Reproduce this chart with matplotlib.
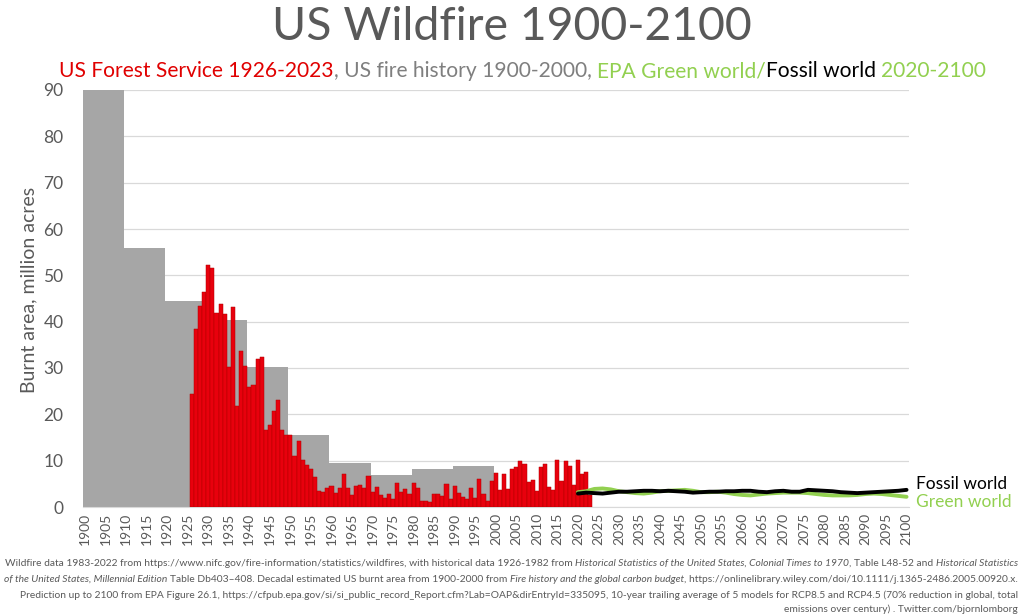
import matplotlib
matplotlib.use('Agg')
import matplotlib.pyplot as plt
from matplotlib import font_manager
import numpy as np

# ---------------- data ----------------
decade_starts = [1900, 1910, 1920, 1930, 1940, 1950, 1960, 1970, 1980, 1990]
decade_vals = [90, 56.0, 44.4, 40.4, 30.3, 15.5, 9.6, 7.0, 8.3, 8.8]

fs_years = list(range(1926, 2024))
fs_vals = [24.3, 38.5, 43.4, 46.3, 52.2, 51.6, 41.9, 43.9, 41.7, 30.3,
           43.2, 21.9, 33.7, 30.4, 25.9, 26.3, 31.9, 32.4, 16.6, 17.6,
           20.7, 23.2, 16.6, 15.5, 15.5, 10.9, 14.2, 10.1, 9.0, 8.1,
           6.5, 3.4, 3.2, 4.2, 4.5, 3.0, 4.0, 7.1, 4.2, 2.6,
           4.6, 4.7, 4.2, 6.7, 3.3, 4.3, 2.6, 1.9, 2.9, 1.8,
           5.1, 3.2, 3.8, 2.9, 5.2, 4.2, 1.4, 1.32, 1.15, 2.90,
           2.72, 2.45, 5.01, 1.83, 4.62, 2.95, 2.07, 1.80, 4.07, 1.84,
           6.07, 2.86, 1.33, 5.63, 7.39, 3.57, 7.18, 3.96, 8.10, 8.69,
           9.87, 9.33, 5.29, 5.92, 3.42, 8.71, 9.33, 4.32, 3.60, 10.13,
           5.51, 10.03, 8.77, 4.66, 10.12, 7.13, 7.58, 2.69]

proj_years = list(range(2020, 2101, 2))
fossil_vals = [2.9, 3.1, 3.0, 2.9, 3.1, 3.3, 3.3, 3.4, 3.5, 3.5,
               3.4, 3.5, 3.4, 3.3, 3.1, 3.2, 3.3, 3.3, 3.4, 3.4,
               3.5, 3.5, 3.3, 3.2, 3.4, 3.5, 3.3, 3.3, 3.7, 3.6,
               3.5, 3.4, 3.2, 3.1, 3.0, 3.1, 3.2, 3.3, 3.4, 3.5, 3.7]
green_vals = [3.2, 3.4, 3.9, 4.0, 3.8, 3.4, 3.2, 3.0, 2.9, 3.1,
              3.4, 3.5, 3.6, 3.7, 3.5, 3.2, 3.2, 3.3, 3.1, 2.8,
              2.6, 2.5, 2.7, 2.9, 3.0, 3.1, 3.1, 3.1, 3.0, 2.8,
              2.6, 2.5, 2.5, 2.5, 2.6, 2.8, 2.9, 2.8, 2.6, 2.4, 2.2]

x_ticks = list(range(1900, 2101, 5))
y_ticks = list(range(0, 91, 10))

title = "US Wildfire 1900-2100"
subtitle = [("US Forest Service 1926-2023", '#E00000'),
            (", US fire history 1900-2000, ", '#7F7F7F'),
            ("EPA Green world/", '#92D050'),
            ("Fossil world", '#000000'),
            (" 2020-2100", '#92D050')]
y_label = "Burnt area, million acres"

foot_lines = [
    [("Wildfire data 1983-2022 from https://www.nifc.gov/fire-information/statistics/wildfires, with historical data 1926-1982 from ", 'normal'),
     ("Historical Statistics of the United States, Colonial Times to 1970", 'italic'),
     (", Table L48-52 and ", 'normal'),
     ("Historical Statistics", 'italic')],
    [("of the United States, Millennial Edition", 'italic'),
     (" Table Db403\u2013408. Decadal estimated US burnt area from 1900-2000 from ", 'normal'),
     ("Fire history and the global carbon budget", 'italic'),
     (", https://onlinelibrary.wiley.com/doi/10.1111/j.1365-2486.2005.00920.x.", 'normal')],
    [("Prediction up to 2100 from EPA Figure 26.1, https://cfpub.epa.gov/si/si_public_record_Report.cfm?Lab=OAP&dirEntryId=335095, 10-year trailing average of 5 models for RCP8.5 and RCP4.5 (70% reduction in global, total", 'normal')],
    [("emissions over century) . Twitter.com/bjornlomborg", 'normal')],
]

# ---------------- style ----------------
names = {f.name for f in font_manager.fontManager.ttflist}
FONT = 'Lato' if 'Lato' in names else 'DejaVu Sans'
plt.rcParams['font.family'] = [FONT, 'DejaVu Sans']
TXT = '#595959'
W, H = 1024, 616

fig = plt.figure(figsize=(W / 100, H / 100), dpi=100)
ax = fig.add_axes([83 / W, 1 - 507 / H, (908.6 - 83) / W, (507 - 90) / H])

ax.bar(np.array(decade_starts) - 0.5, decade_vals, width=10, align='edge',
       color='#A6A6A6', zorder=2, linewidth=0)
ax.bar(fs_years, fs_vals, width=1.0, color='#E8000D', edgecolor='#B00000',
       linewidth=0.35, zorder=3)
ax.plot(proj_years, green_vals, color='#92D050', lw=2.8, zorder=4,
        solid_capstyle='round')
ax.plot(proj_years, fossil_vals, color='#000000', lw=2.8, zorder=5,
        solid_capstyle='round')

ax.set_xlim(1899.5, 2100.5)
ax.set_ylim(0, 90)
ax.set_yticks(y_ticks)
ax.set_xticks(x_ticks)
ax.set_xticklabels([str(v) for v in x_ticks], rotation=90)
ax.yaxis.grid(True, color='#D9D9D9', lw=0.9)
ax.set_axisbelow(True)
for s in ['top', 'right', 'left']:
    ax.spines[s].set_visible(False)
ax.spines['bottom'].set_color('#D9D9D9')
ax.tick_params(axis='both', length=0, colors=TXT)
ax.tick_params(axis='y', labelsize=12.5, pad=14)
ax.tick_params(axis='x', labelsize=10, pad=4)

ax.text(2102.3, 5.0, "Fossil world", color='#000000', fontsize=12.5,
        va='center', ha='left', clip_on=False)
ax.text(2102.3, 1.0, "Green world", color='#92D050', fontsize=12.5,
        va='center', ha='left', clip_on=False)

fig.text(29 / W, 1 - 290 / H, y_label, rotation=90, color=TXT,
         fontsize=14, ha='center', va='center')

fig.canvas.draw()
R = fig.canvas.get_renderer()


def text_width(txt, **props):
    t = fig.text(0, 0, '|' + txt + '|', **props)
    w1 = t.get_window_extent(R).width
    t.set_text('||')
    w0 = t.get_window_extent(R).width
    t.remove()
    return w1 - w0


def draw_segments(segs, x_px, y_px, align, **common):
    widths = []
    for txt, props in segs:
        p = dict(common)
        p.update(props)
        widths.append(text_width(txt, **p))
    total = sum(widths)
    if align == 'center':
        x = x_px - total / 2
    elif align == 'right':
        x = x_px - total
    else:
        x = x_px
    for (txt, props), w in zip(segs, widths):
        p = dict(common)
        p.update(props)
        stripped = txt.lstrip(' ')
        lead = txt[:len(txt) - len(stripped)]
        off = text_width(lead, **p) if lead else 0
        fig.text((x + off) / W, 1 - y_px / H, stripped.rstrip(' '),
                 ha='left', va='center', **p)
        x += w
    return total


# title (fit to width)
base = 30
tw = text_width(title, fontsize=base)
tsize = base * 480 / tw
fig.text(512 / W, 1 - 27 / H, title, fontsize=tsize, color=TXT,
         ha='center', va='center')

# subtitle
sub_segs = [(t, {'color': c}) for t, c in subtitle]
sw = sum(text_width(t, fontsize=14) for t, c in subtitle)
ssize = 14 * 931 / sw
draw_segments(sub_segs, 522.5, 71, 'center', fontsize=ssize)

# footnote
fw = sum(text_width(t, fontsize=8, style=st) for t, st in foot_lines[0])
fsize = 8 * 1013 / fw
foot_y = [563, 579, 595, 609]
for line, yy in zip(foot_lines, foot_y):
    segs = [(t, {'style': st}) for t, st in line]
    draw_segments(segs, 1018, yy, 'right', fontsize=fsize, color=TXT)

fig.savefig('out.png', dpi=100)
